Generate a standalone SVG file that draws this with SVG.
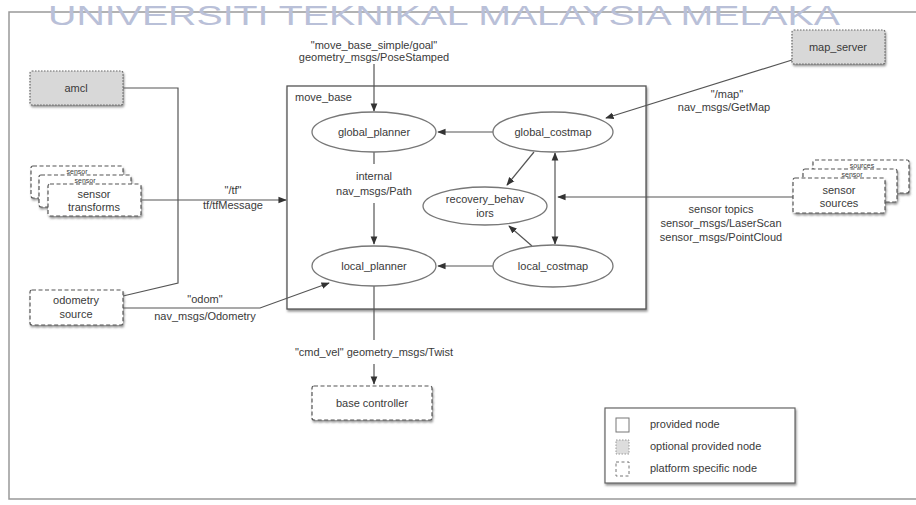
<svg xmlns="http://www.w3.org/2000/svg" width="916" height="505" viewBox="0 0 916 505">
<defs>
<filter id="sh" x="-20%" y="-20%" width="140%" height="160%"><feDropShadow dx="1" dy="2" stdDeviation="1.3" flood-color="#666" flood-opacity="0.7"/></filter>
<marker id="ah" viewBox="0 0 10 10" refX="9" refY="5" markerWidth="7" markerHeight="7" orient="auto-start-reverse"><path d="M0,1 L10,5 L0,9 z" fill="#333"/></marker>
<style>
text{font-family:"Liberation Sans",Arial,sans-serif;font-size:11px;fill:#3a3a3a;text-anchor:middle}
.opt{fill:#d8d8d8;stroke:#666;stroke-width:1.2;stroke-dasharray:1.5 1.5;filter:url(#sh)}
.plat{fill:#fff;stroke:#555;stroke-width:1.2;stroke-dasharray:4 2.5;filter:url(#sh)}
.ell{fill:#fff;stroke:#777;stroke-width:1.3}
.ln{fill:none;stroke:#555;stroke-width:1.2}
.arr{fill:none;stroke:#555;stroke-width:1.2;marker-end:url(#ah)}
.wm{font-size:27px;fill:#b9c0d8;text-anchor:start}
.lt{text-anchor:start}
.bk{font-size:7px}
</style>
</defs>
<rect width="916" height="505" fill="#fff"/>
<rect x="9" y="12" width="920" height="487" fill="none" stroke="#999" stroke-width="1.5"/>
<text class="wm" x="48" y="25" textLength="792" lengthAdjust="spacingAndGlyphs">UNIVERSITI TEKNIKAL MALAYSIA MELAKA</text>

<g id="move_base">
<rect x="287" y="86" width="359" height="223" fill="#fff" stroke="#555" stroke-width="1.3" filter="url(#sh)"/>
<text class="lt" x="295" y="101">move_base</text>
</g>

<g id="connectors">
<line class="arr" x1="374" y1="64" x2="374" y2="111"/>
<line class="arr" x1="493" y1="132" x2="438" y2="132"/>
<line class="arr" x1="534" y1="152" x2="507" y2="185"/>
<line class="arr" x1="555" y1="197" x2="555" y2="153"/>
<line class="arr" x1="555" y1="197" x2="555" y2="244"/>
<line class="arr" x1="793" y1="197" x2="558" y2="197"/>
<line class="arr" x1="532" y1="246" x2="509" y2="226"/>
<line class="arr" x1="493" y1="266" x2="438" y2="266"/>
<line class="ln" x1="374" y1="152" x2="374" y2="164"/>
<line class="arr" x1="374" y1="203" x2="374" y2="244"/>
<line class="arr" x1="792" y1="60" x2="606" y2="118"/>
<line class="arr" x1="142" y1="200" x2="286" y2="200"/>
<polyline class="ln" points="123,88 178,88 178,283 123,296"/>
<polyline class="arr" points="123,308 260,308 329,283"/>
<line class="ln" x1="374" y1="286" x2="374" y2="340"/>
<line class="arr" x1="374" y1="364" x2="374" y2="384"/>
<text x="374" y="49">"move_base_simple/goal"</text>
<text x="374" y="61">geometry_msgs/PoseStamped</text>
<text x="374" y="180">internal</text>
<text x="374" y="195">nav_msgs/Path</text>
<text x="233" y="194">"/tf"</text>
<text x="233" y="209">tf/tfMessage</text>
<text x="727" y="98">"/map"</text>
<text x="724" y="111">nav_msgs/GetMap</text>
<text x="721" y="213">sensor topics</text>
<text x="721" y="227">sensor_msgs/LaserScan</text>
<text x="721" y="241">sensor_msgs/PointCloud</text>
<text x="205" y="303">"odom"</text>
<text x="205" y="320">nav_msgs/Odometry</text>
<text x="374" y="356">"cmd_vel" geometry_msgs/Twist</text>
</g>

<g id="global_planner"><ellipse class="ell" cx="374" cy="132" rx="62" ry="20"/><text x="374" y="136">global_planner</text></g>
<g id="global_costmap"><ellipse class="ell" cx="553" cy="132" rx="60" ry="20"/><text x="553" y="136">global_costmap</text></g>
<g id="recovery_behaviors"><ellipse class="ell" cx="485" cy="206" rx="62" ry="19"/><text x="485" y="203">recovery_behav</text><text x="485" y="217">iors</text></g>
<g id="local_planner"><ellipse class="ell" cx="374" cy="266" rx="62" ry="20"/><text x="374" y="270">local_planner</text></g>
<g id="local_costmap"><ellipse class="ell" cx="553" cy="266" rx="60" ry="21"/><text x="553" y="270">local_costmap</text></g>

<g id="amcl"><rect class="opt" x="30" y="71" width="93" height="34" rx="2"/><text x="76" y="92">amcl</text></g>
<g id="map_server"><rect class="opt" x="792" y="30" width="93" height="34" rx="2"/><text x="838" y="51">map_server</text></g>

<g id="sensor_transforms">
<rect class="plat" x="31" y="166" width="92" height="32" rx="2"/>
<text class="bk" x="77" y="174">sensor</text>
<rect class="plat" x="39" y="175" width="92" height="32" rx="2"/>
<text class="bk" x="85" y="183">sensor</text>
<rect class="plat" x="48" y="184" width="93" height="32" rx="2"/>
<text x="94" y="198">sensor</text><text x="94" y="211">transforms</text>
</g>

<g id="sensor_sources">
<rect class="plat" x="813" y="160" width="96" height="33" rx="2"/>
<text class="bk" x="862" y="168">sources</text>
<rect class="plat" x="803" y="169" width="94" height="33" rx="2"/>
<text class="bk" x="852" y="177">sensor</text>
<rect class="plat" x="793" y="178" width="92" height="35" rx="2"/>
<text x="839" y="194">sensor</text><text x="839" y="207">sources</text>
</g>

<g id="odometry_source"><rect class="plat" x="30" y="290" width="93" height="35" rx="2"/><text x="76" y="304">odometry</text><text x="76" y="318">source</text></g>
<g id="base_controller"><rect class="plat" x="312" y="386" width="120" height="34" rx="2"/><text x="372" y="407">base controller</text></g>

<g id="legend">
<rect x="605" y="408" width="190" height="75" fill="#fff" stroke="#666" stroke-width="1.2" filter="url(#sh)"/>
<rect x="616" y="418" width="13" height="14" fill="#fff" stroke="#777"/>
<rect x="616" y="440" width="13" height="14" fill="#ddd" stroke="#999" stroke-dasharray="1.5 1.5"/>
<rect x="616" y="462" width="13" height="14" fill="#fff" stroke="#777" stroke-dasharray="3 2.5"/>
<text class="lt" x="650" y="428" font-size="10">provided node</text>
<text class="lt" x="650" y="450" font-size="10">optional provided node</text>
<text class="lt" x="650" y="472" font-size="10">platform specific node</text>
</g>
</svg>
